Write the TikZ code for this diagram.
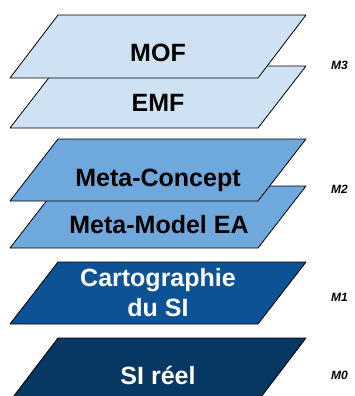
\documentclass[tikz,border=0pt]{standalone}
\usepackage{fontspec}
\setmainfont{Liberation Sans}
\definecolor{paleblue}{RGB}{207,226,243}
\definecolor{midblue}{RGB}{111,168,220}
\definecolor{deepblue}{RGB}{11,83,148}
\definecolor{navyblue}{RGB}{7,55,99}

\begin{document}
\begin{tikzpicture}[x=1pt, y=-1pt]
\tikzstyle{plane}=[draw=black, line width=0.8pt, line join=round]
\tikzstyle{pale}=[plane, fill=paleblue]
\tikzstyle{mid}=[plane, fill=midblue]
\tikzstyle{deep}=[plane, fill=deepblue]
\tikzstyle{navy}=[plane, fill=navyblue]
\tikzstyle{title}=[font=\fontsize{25}{30}\selectfont\bfseries, inner sep=0pt, align=center]
\tikzstyle{level}=[font=\fontsize{12}{14}\selectfont\bfseries\itshape, inner sep=0pt, anchor=west]
\useasboundingbox (0,0) rectangle (354,396);
% M3
\draw[pale] (10,128) -- (58,66) -- (306,66) -- (258,128) -- cycle;
\draw[pale] (10,78) -- (58,15) -- (306,15) -- (258,78) -- cycle;
\node[title, anchor=base] (mof) at (158,62) {MOF};
\node[title, anchor=base] (emf) at (158,111) {EMF};
% M2
\draw[mid] (10,248) -- (58,186) -- (306,186) -- (258,248) -- cycle;
\draw[mid] (10,201) -- (58,139) -- (306,139) -- (258,201) -- cycle;
\node[title, anchor=base] (metaconcept) at (158,186) {Meta-Concept};
\node[title, anchor=base] (metamodel) at (159,233) {Meta-Model EA};
% M1
\draw[deep] (10,324) -- (58,262) -- (306,262) -- (258,324) -- cycle;
\node[title, text=white] (carto) at (158,293) {Cartographie\\du SI};
% M0
\draw[navy] (10,401) -- (58,338) -- (306,338) -- (258,401) -- cycle;
\node[title, text=white, anchor=base] (sireel) at (158,384) {SI réel};
% levels
\node[level] (m3) at (331,65) {M3};
\node[level] (m2) at (331,189) {M2};
\node[level] (m1) at (331,297) {M1};
\node[level] (m0) at (331,375) {M0};
\end{tikzpicture}
\end{document}
